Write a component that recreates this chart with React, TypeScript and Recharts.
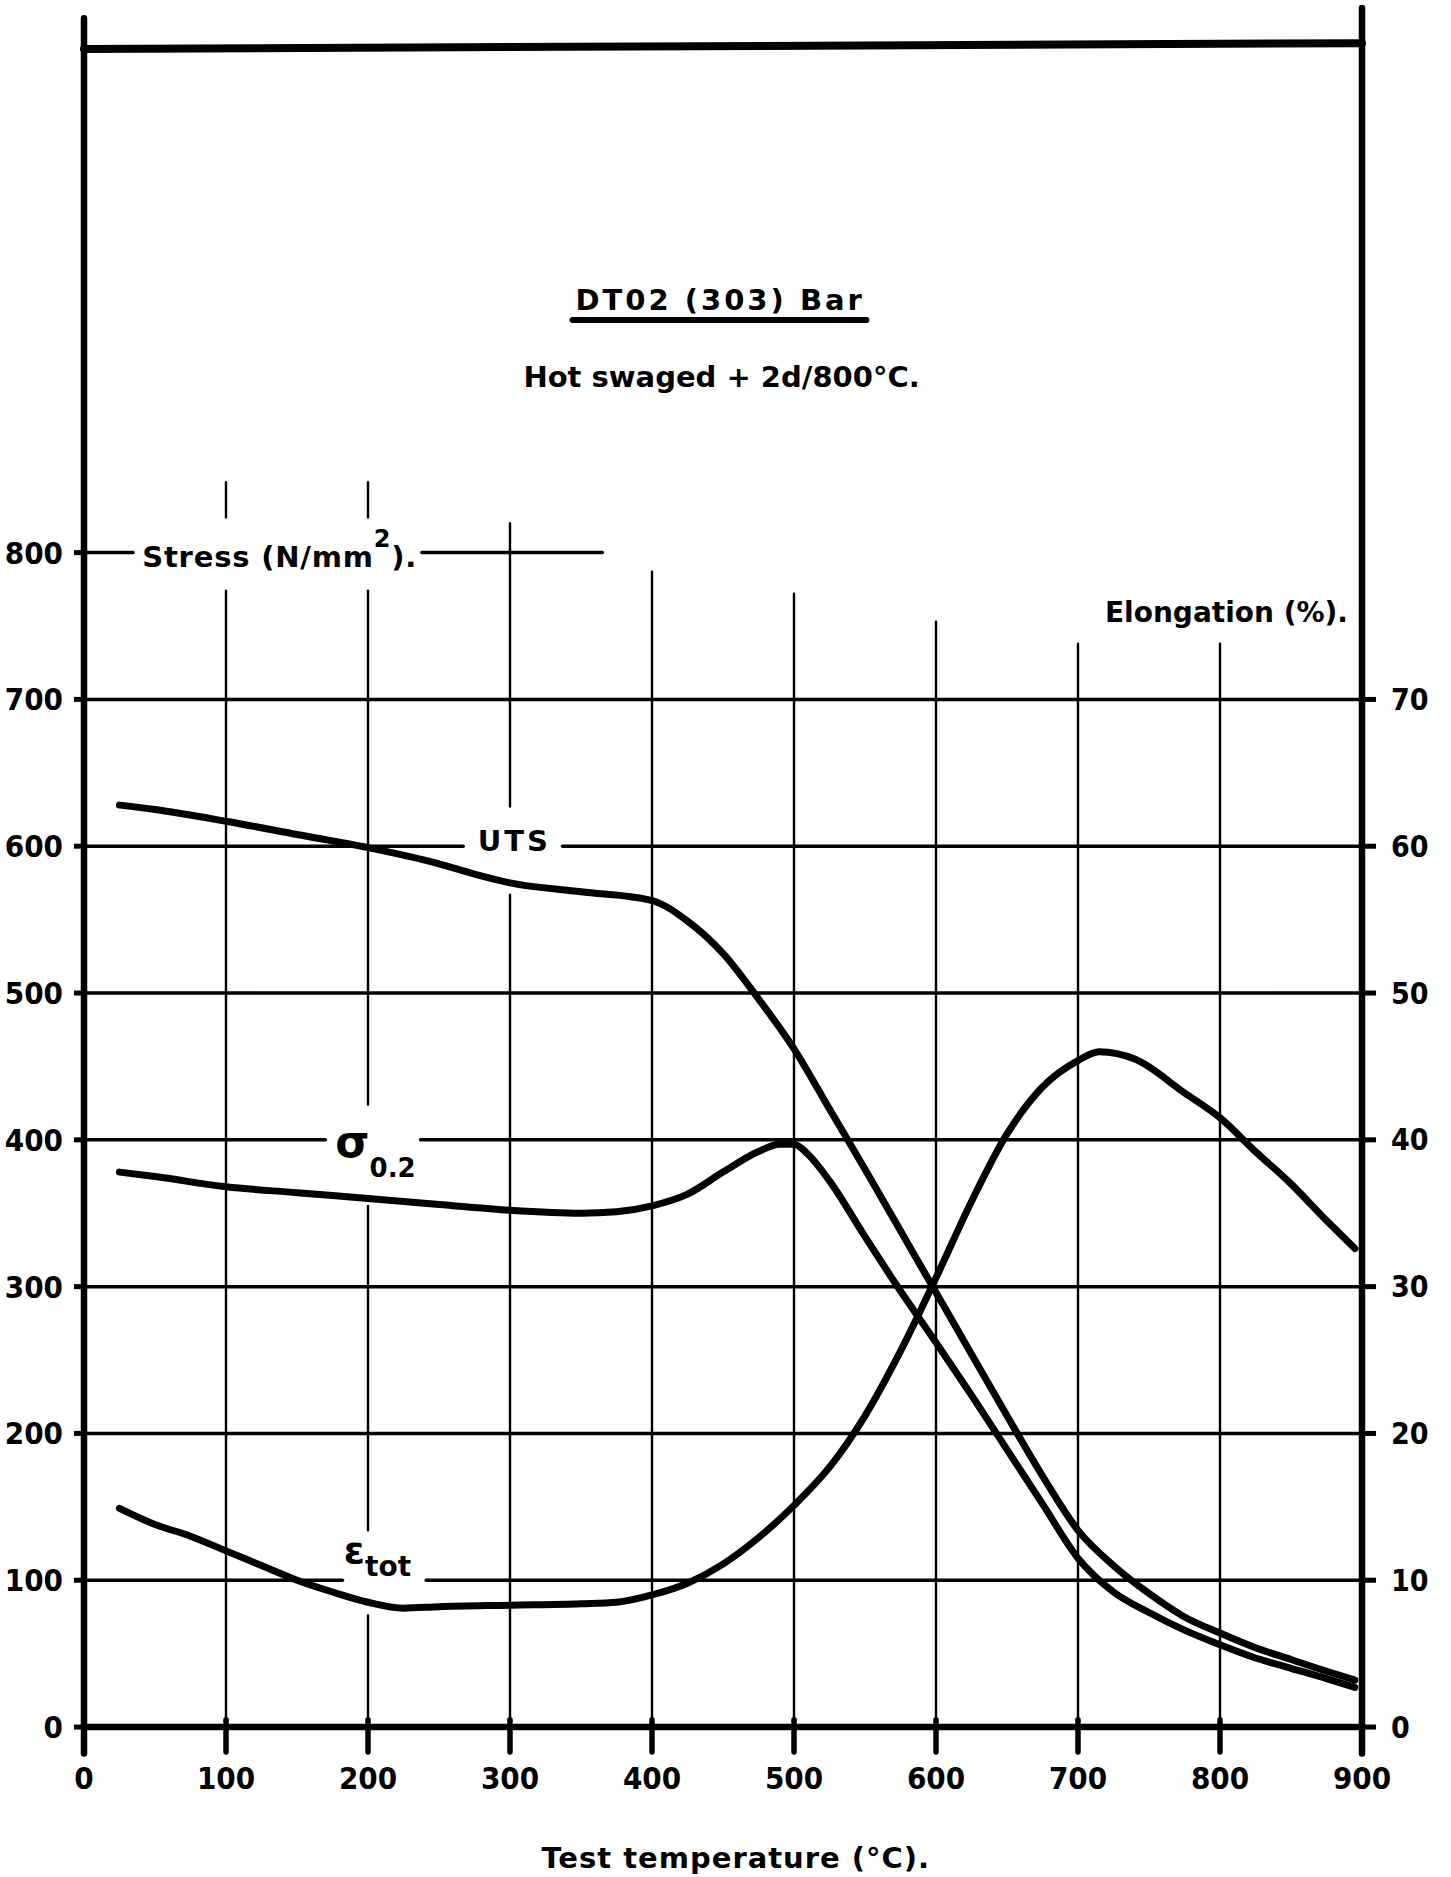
import React from "react";
import { LineChart, Line, XAxis, YAxis, ReferenceLine, ReferenceDot } from "recharts";

// Test temperature (°C) against ultimate tensile strength (N/mm²)
const utsTemp = [25, 50, 100, 150, 200, 250, 275, 300, 350, 400, 425, 450, 475, 500, 525, 550, 575, 600, 625, 650, 675, 700, 725, 750, 775, 800, 825, 850, 875, 895];
const utsStress = [628, 625, 617, 608, 599, 588, 581, 575, 569, 563, 549, 527, 496, 462, 421, 380, 338, 296, 254, 212, 171, 134, 110, 91, 75, 64, 54, 46, 38, 32];

// 0.2 % proof stress (N/mm²)
const proofTemp = [25, 50, 100, 150, 200, 250, 300, 350, 375, 400, 425, 450, 475, 490, 500, 510, 525, 550, 575, 600, 625, 650, 675, 700, 725, 750, 775, 800, 825, 850, 875, 895];
const proofStress = [378, 375, 368, 364, 360, 356, 352, 350, 351, 355, 363, 378, 392, 397, 397, 390, 372, 334, 297, 262, 226, 189, 152, 115, 92, 78, 66, 56, 47, 40, 33, 27];

// total elongation (%), read on the right-hand scale
const elongTemp = [25, 50, 75, 100, 125, 150, 175, 200, 225, 250, 300, 350, 375, 400, 425, 450, 475, 500, 525, 550, 575, 600, 625, 650, 675, 700, 715, 740, 775, 800, 825, 850, 875, 895];
const elongPct = [14.9, 13.8, 13.0, 12.0, 11.0, 10.0, 9.2, 8.5, 8.1, 8.2, 8.3, 8.4, 8.5, 9.0, 9.8, 11.1, 12.9, 15.1, 17.7, 21.2, 25.6, 30.6, 35.8, 40.4, 43.6, 45.4, 46.0, 45.5, 43.2, 41.5, 39.2, 37.0, 34.5, 32.6];

const tempTicks = [0, 100, 200, 300, 400, 500, 600, 700, 800, 900];
const stressTicks = [0, 100, 200, 300, 400, 500, 600, 700, 800];
const elongTicks = [0, 10, 20, 30, 40, 50, 60, 70];

const toPoints = (xs: number[], ys: number[]) => xs.map((t, i) => ({ t, v: ys[i] }));

const FONT = "'DejaVu Sans', 'Liberation Sans', sans-serif";
const INK = "#000";

// horizontal rules [stress, from °C, to °C]; the breaks leave room for labels
const hRules: [number, number, number][] = [
  [100, 0, 182], [100, 241, 900],
  [200, 0, 900],
  [300, 0, 900],
  [400, 0, 170], [400, 237, 900],
  [500, 0, 900],
  [600, 0, 267], [600, 337, 900],
  [700, 0, 900],
  [800, 0, 34.5], [800, 238, 365],
];

// vertical rules [°C, from stress, to stress]
const vRules: [number, number, number][] = [
  [100, 0, 774], [100, 824, 848],
  [200, 0, 76], [200, 134, 355], [200, 424, 774], [200, 824, 848],
  [300, 0, 567], [300, 627, 820],
  [400, 0, 787],
  [500, 0, 772],
  [600, 0, 753],
  [700, 0, 738],
  [800, 0, 738],
];

const txt = { fontFamily: FONT, fontWeight: 700, fill: INK } as const;

type Dot = { cx?: number; cy?: number };

const seg = (key: string, x1: number, y1: number, x2: number, y2: number, w: number) => (
  <ReferenceLine
    key={key}
    yAxisId="stress"
    segment={[{ x: x1, y: y1 }, { x: x2, y: y2 }]}
    stroke={INK}
    strokeWidth={w}
    strokeLinecap="round"
    ifOverflow="visible"
  />
);

const label = (key: string, x: number, y: number, render: (cx: number, cy: number) => React.ReactElement) => (
  <ReferenceDot
    key={key}
    yAxisId="stress"
    x={x}
    y={y}
    r={0}
    ifOverflow="visible"
    shape={(p: Dot) => render(p.cx ?? 0, p.cy ?? 0)}
  />
);

const curve = (key: string, axis: string, xs: number[], ys: number[]) => (
  <Line
    key={key}
    data={toPoints(xs, ys)}
    dataKey="v"
    yAxisId={axis}
    type="monotone"
    stroke={INK}
    strokeWidth={7}
    strokeLinecap="round"
    strokeLinejoin="round"
    dot={false}
    isAnimationActive={false}
  />
);

export default function App() {
  return (
    <div style={{ position: "absolute", left: 0, top: 0, width: 1451, height: 1877, background: "#fff" }}>
      <LineChart width={1451} height={1877} margin={{ top: 6.5, right: 0, bottom: 60.6, left: 0 }}>
        <XAxis
          dataKey="t"
          type="number"
          domain={[0, 900]}
          ticks={tempTicks}
          height={60}
          axisLine={false}
          tickLine={false}
          tickSize={0}
          tickMargin={11}
          tick={{ ...txt, fontSize: 31, style: { fontStretch: "condensed" } }}
          allowDataOverflow
        />
        <YAxis
          yAxisId="stress"
          orientation="left"
          width={84}
          domain={[-20, 1172]}
          ticks={stressTicks}
          axisLine={false}
          tickLine={{ stroke: INK, strokeWidth: 5 }}
          tickSize={10}
          tickMargin={11}
          tick={{ ...txt, fontSize: 31, style: { fontStretch: "condensed" } }}
          allowDataOverflow
        />
        <YAxis
          yAxisId="elong"
          orientation="right"
          width={89}
          domain={[-2, 117.2]}
          ticks={elongTicks}
          axisLine={false}
          tickLine={{ stroke: INK, strokeWidth: 5 }}
          tickSize={14}
          tickMargin={15}
          tick={{ ...txt, fontSize: 30, style: { fontStretch: "condensed" } }}
          allowDataOverflow
        />

        {/* grid */}
        {hRules.map(([s, a, b], i) => seg(`h${i}`, a, s, b, s, 3.5))}
        {vRules.map(([t, a, b], i) => seg(`v${i}`, t, a, t, b, 2.4))}

        {/* frame, base line and temperature ticks */}
        {seg("base", 0, 0, 900, 0, 6.5)}
        {seg("left", 0, -18, 0, 1164, 6.5)}
        {seg("right", 900, -18, 900, 1171, 6.5)}
        {seg("top", 0, 1143, 900, 1147, 8)}
        {tempTicks.map((t) => seg(`xt${t}`, t, -17, t, 5, 5.5))}

        {curve("uts", "stress", utsTemp, utsStress)}
        {curve("proof", "stress", proofTemp, proofStress)}
        {curve("elong", "elong", elongTemp, elongPct)}

        {/* heading */}
        {label("title", 448, 965, (x, y) => (
          <text x={x} y={y} textAnchor="middle" fontSize={29} letterSpacing={3} {...txt}>
            DT02 (303) Bar
          </text>
        ))}
        {seg("underline", 344, 958.5, 551, 958.5, 6)}
        {label("sub", 449, 913, (x, y) => (
          <text x={x} y={y} textAnchor="middle" fontSize={29} {...txt}>
            Hot swaged + 2d/800°C.
          </text>
        ))}

        {/* axis captions */}
        {label("stress", 41, 790, (x, y) => (
          <text x={x} y={y} fontSize={29} letterSpacing={0.8} {...txt}>
            Stress (N/mm<tspan fontSize={24} dy={-20}>2</tspan>
            <tspan dy={20}>).</tspan>
          </text>
        ))}
        {label("elong", 719, 753, (x, y) => (
          <text x={x} y={y} fontSize={28} {...txt}>
            Elongation (%).
          </text>
        ))}
        {label("xcap", 459, -96, (x, y) => (
          <text x={x} y={y} textAnchor="middle" fontSize={29} letterSpacing={1} {...txt}>
            Test temperature (°C).
          </text>
        ))}

        {/* curve names */}
        {label("uts", 303, 597, (x, y) => (
          <text x={x} y={y} textAnchor="middle" fontSize={29} letterSpacing={3} {...txt}>
            UTS
          </text>
        ))}
        {label("proof", 177, 388, (x, y) => (
          <text x={x} y={y} fontSize={44} {...txt}>
            σ<tspan fontSize={26} dy={20}>0.2</tspan>
          </text>
        ))}
        {label("eps", 183, 112, (x, y) => (
          <text x={x} y={y} fontSize={38} {...txt}>
            ε<tspan fontSize={28} dy={13}>tot</tspan>
          </text>
        ))}
      </LineChart>
    </div>
  );
}
